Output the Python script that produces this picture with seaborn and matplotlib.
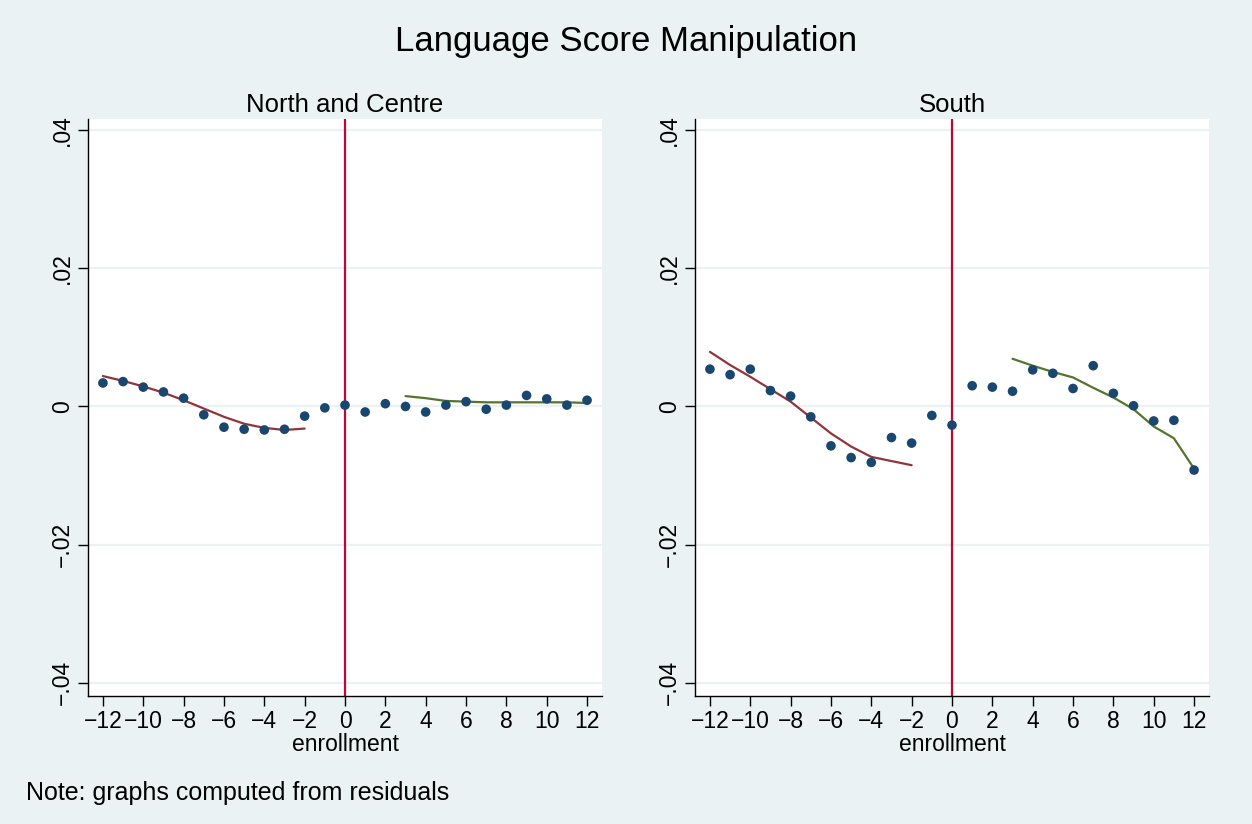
import numpy as np
import pandas as pd
import matplotlib
matplotlib.use("Agg")
import matplotlib.pyplot as plt
import seaborn as sns

# binned residual means by enrollment distance
enroll = list(range(-12, 13))
north_pts = [0.0034, 0.0036, 0.0028, 0.0021, 0.0012, -0.0012, -0.0030, -0.0033, -0.0034, -0.0033,
             -0.0014, -0.0002, 0.0002, -0.0008, 0.0004, 0.0000, -0.0008, 0.0002, 0.0007, -0.0004,
             0.0002, 0.0016, 0.0011, 0.0002, 0.0009]
south_pts = [0.0054, 0.0046, 0.0054, 0.0023, 0.0015, -0.0015, -0.0057, -0.0074, -0.0081, -0.0045,
             -0.0053, -0.0013, -0.0027, 0.0030, 0.0028, 0.0022, 0.0053, 0.0048, 0.0026, 0.0059,
             0.0019, 0.0001, -0.0021, -0.0020, -0.0092]

# smoothed fits on each side of the threshold
left_x = list(range(-12, -1))
north_left = [0.0044, 0.0037, 0.0029, 0.0020, 0.0009, -0.0003, -0.0015, -0.0025, -0.0031, -0.0034, -0.0032]
south_left = [0.0079, 0.0060, 0.0043, 0.0025, 0.0007, -0.0016, -0.0039, -0.0058, -0.0073, -0.0079, -0.0085]
right_x = list(range(3, 13))
north_right = [0.0015, 0.0012, 0.0008, 0.0007, 0.0006, 0.0006, 0.0006, 0.0006, 0.0006, 0.0005]
south_right = [0.0069, 0.0059, 0.0050, 0.0042, 0.0027, 0.0013, -0.0004, -0.0029, -0.0046, -0.0090]

panels = ["North and Centre", "South"]
yticks = [-0.04, -0.02, 0, 0.02, 0.04]
ytick_labels = ["\u2212.04", "\u2212.02", "0", ".02", ".04"]
xticks = list(range(-12, 13, 2))
xtick_labels = [("\u2212" + str(-t)) if t < 0 else str(t) for t in xticks]

bg = "#eaf2f3"
dot_c = "#1a476f"
red_c = "#90353b"
green_c = "#55752f"
vline_c = "#c10534"

sns.set_style("white")
plt.rcParams["font.family"] = ["Liberation Sans", "DejaVu Sans"]
plt.rcParams["text.color"] = "black"
plt.rcParams["xtick.color"] = "black"
plt.rcParams["ytick.color"] = "black"
plt.rcParams["axes.labelcolor"] = "black"

fig = plt.figure(figsize=(12.52, 8.24), dpi=100, facecolor=bg)
ax1 = fig.add_axes([88 / 1252, 1 - 696 / 824, 514 / 1252, 577 / 824])
ax2 = fig.add_axes([695 / 1252, 1 - 696 / 824, 514 / 1252, 577 / 824])

data = [(north_pts, north_left, north_right), (south_pts, south_left, south_right)]
for ax, name, (pts, lft, rgt) in zip([ax1, ax2], panels, data):
    ax.set_facecolor("white")
    for yt in yticks:
        ax.axhline(yt, color=bg, lw=1.6, zorder=0)
    ax.axvline(0, color=vline_c, lw=1.6, zorder=1)
    sns.lineplot(x=left_x, y=lft, ax=ax, color=red_c, lw=1.6, zorder=2)
    sns.lineplot(x=right_x, y=rgt, ax=ax, color=green_c, lw=1.6, zorder=2)
    sns.scatterplot(x=enroll, y=pts, ax=ax, color=dot_c, s=48, edgecolor="none", zorder=3)
    ax.set_xlim(-12.74, 12.74)
    ax.set_ylim(-0.0419, 0.0416)
    ax.set_yticks(yticks)
    ax.set_yticklabels(ytick_labels, rotation=90, va="center", fontsize=16.5)
    ax.set_xticks(xticks)
    ax.set_xticklabels(xtick_labels, fontsize=16.5)
    ax.tick_params(direction="out", length=7, width=1, pad=3, left=True, bottom=True)
    ax.set_xlabel("enrollment", fontsize=16.5, labelpad=0)
    ax.set_ylabel("")
    ax.set_title(name, fontsize=18.5, pad=5)
    for s in ["top", "right"]:
        ax.spines[s].set_visible(False)
    for s in ["left", "bottom"]:
        ax.spines[s].set_color("black")
        ax.spines[s].set_linewidth(1)

fig.text(0.5, 1 - 42 / 824, "Language Score Manipulation", ha="center", va="center", fontsize=25)
fig.text(26 / 1252, 1 - 793 / 824, "Note: graphs computed from residuals", ha="left", va="center", fontsize=18)

fig.savefig("out.png", dpi=100, facecolor=bg)
